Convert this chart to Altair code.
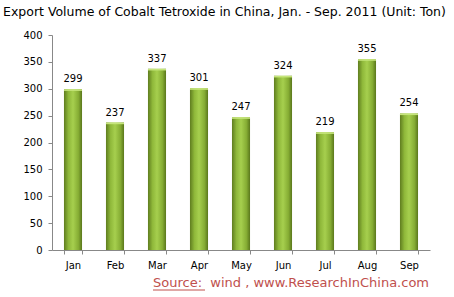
import altair as alt
import pandas as pd

months = ["Jan", "Feb", "Mar", "Apr", "May", "Jun", "Jul", "Aug", "Sep"]
volumes = [299, 237, 337, 301, 247, 324, 219, 355, 254]

df = pd.DataFrame({"month": months, "volume": volumes})

grad = alt.Gradient(
    gradient="linear",
    stops=[
        alt.GradientStop(color="#5f7d1f", offset=0),
        alt.GradientStop(color="#8fb83a", offset=0.25),
        alt.GradientStop(color="#a6cf4e", offset=0.5),
        alt.GradientStop(color="#86ad34", offset=0.8),
        alt.GradientStop(color="#5a771c", offset=1),
    ],
    x1=0, x2=1, y1=0, y2=0,
)

x = alt.X("month:N", sort=months, title=None,
          scale=alt.Scale(paddingInner=0.57, paddingOuter=0.285),
          axis=alt.Axis(labelAngle=0, tickBand="extent", domainColor="#888888",
                        tickColor="#888888", tickSize=4, labelPadding=6,
                        labelFont="DejaVu Sans", labelFontSize=10, labelColor="#000000"))
y = alt.Y("volume:Q", title=None,
          scale=alt.Scale(domain=[0, 400], nice=False),
          axis=alt.Axis(values=list(range(0, 401, 50)), grid=False,
                        domainColor="#888888", tickColor="#888888", tickSize=4,
                        labelPadding=6, labelFont="DejaVu Sans", labelFontSize=10,
                        labelColor="#000000"))

base = alt.Chart(df)
bars = base.mark_bar(color=grad).encode(x=x, y=y)
caps = base.transform_calculate(top2="datum.volume - 3").mark_bar(color="#c5e57a").encode(
    x=x, y=y, y2="top2:Q")
labels = base.mark_text(dy=-10, font="DejaVu Sans", fontSize=10, color="#000000").encode(
    x=x, y=y, text="volume:Q")

title = alt.Chart(pd.DataFrame({"t": ["Export Volume of Cobalt Tetroxide in China, Jan. - Sep. 2011 (Unit: Ton)"]})).mark_text(
    align="left", baseline="middle", font="DejaVu Sans", fontSize=12.5, color="#000000"
).encode(x=alt.value(-49), y=alt.value(-23), text="t:N")

source = alt.Chart(pd.DataFrame({"t": ["Source:\u00a0 wind , www.ResearchInChina.com"]})).mark_text(
    align="left", baseline="middle", font="DejaVu Sans", fontSize=13, color="#c0504d"
).encode(x=alt.value(101), y=alt.value(33 + 215), text="t:N")

underline = alt.Chart(pd.DataFrame({"a": [0]})).mark_rule(color="#c0504d", strokeWidth=1).encode(
    x=alt.value(101), x2=alt.value(153), y=alt.value(215 + 40))

chart = alt.layer(bars, caps, labels, title, source, underline).properties(
    width=378, height=215,
    background="#ffffff",
    autosize=alt.AutoSizeParams(type="none"),
    padding={"left": 52, "top": 35, "right": 24, "bottom": 47},
).configure_view(stroke=None)

chart.save("out.html", embed_options={"renderer": "svg", "actions": False})
